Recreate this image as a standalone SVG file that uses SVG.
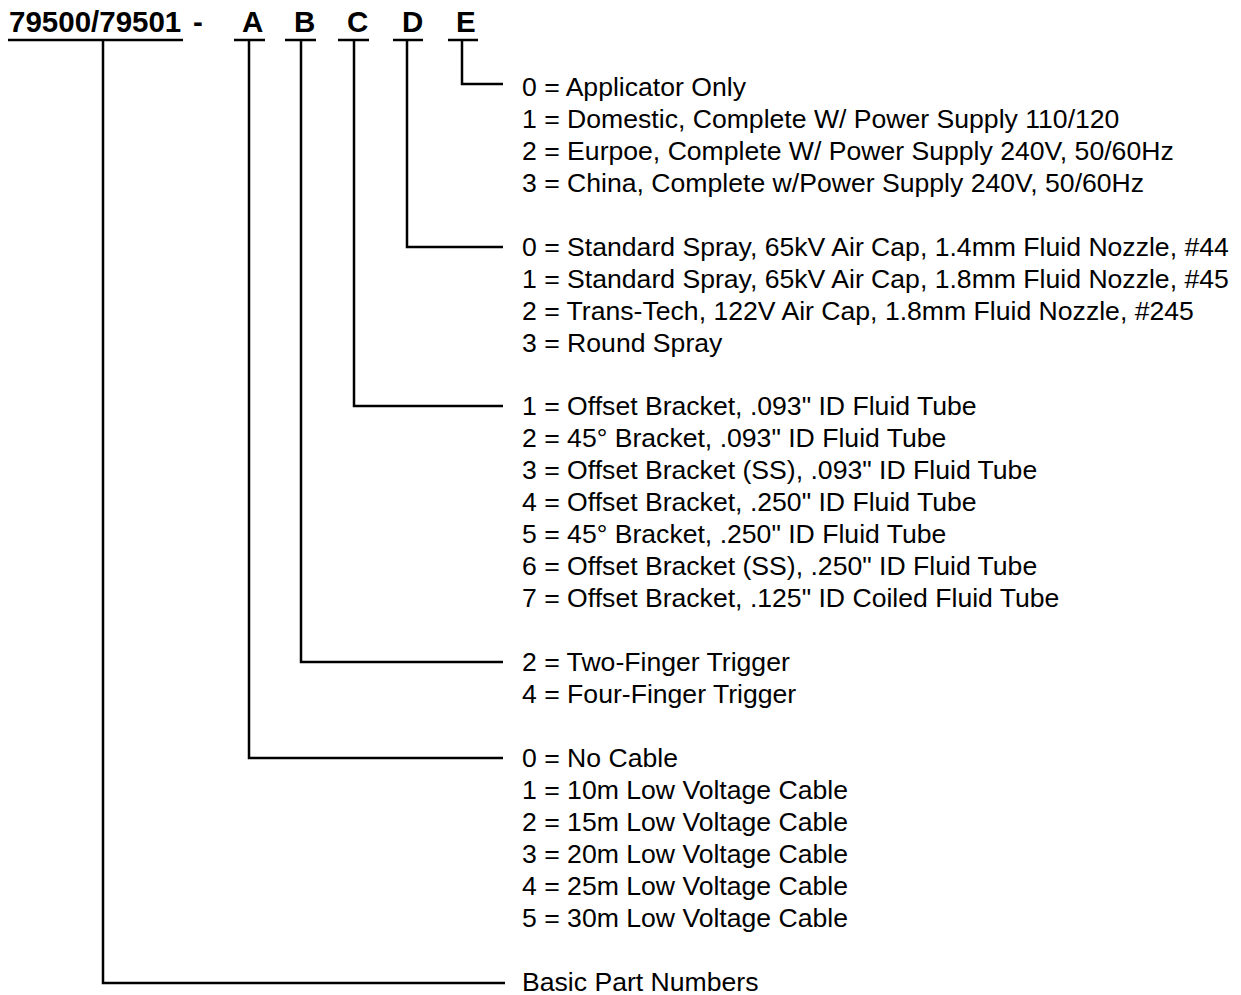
<svg xmlns="http://www.w3.org/2000/svg" width="1241" height="995" viewBox="0 0 1241 995">
<style>
.h{font-family:"Liberation Sans",Arial,sans-serif;font-weight:bold;font-size:29.5px;fill:#000}
.t{font-family:"Liberation Sans",Arial,sans-serif;font-size:26.6px;fill:#000}
.ln{fill:none;stroke:#000;stroke-width:2.5}
</style>
<rect width="1241" height="995" fill="#fff"/>
<g id="header">
<text class="h" x="9" y="32">79500/79501</text>
<text class="h" x="193" y="32">-</text>
<text class="h" x="242" y="32">A</text>
<text class="h" x="294" y="32">B</text>
<text class="h" x="347" y="32">C</text>
<text class="h" x="402" y="32">D</text>
<text class="h" x="456" y="32">E</text>
<path class="ln" d="M8 40H183M234 40H265M285 40H316M338 40H369M393 40H423M448 40H478"/>
</g>
<g id="connectors">
<path class="ln" d="M462 40V84H503"/>
<path class="ln" d="M407 40V247H503"/>
<path class="ln" d="M354 40V406H503"/>
<path class="ln" d="M301 40V662H503"/>
<path class="ln" d="M249 40V758H503"/>
<path class="ln" d="M103 40V983H505"/>
</g>
<g id="E">
<text class="t" x="522" y="96">0 = Applicator Only</text>
<text class="t" x="522" y="128">1 = Domestic, Complete W/ Power Supply 110/120</text>
<text class="t" x="522" y="160">2 = Eurpoe, Complete W/ Power Supply 240V, 50/60Hz</text>
<text class="t" x="522" y="192">3 = China, Complete w/Power Supply 240V, 50/60Hz</text>
</g>
<g id="D">
<text class="t" x="522" y="256">0 = Standard Spray, 65kV Air Cap, 1.4mm Fluid Nozzle, #44</text>
<text class="t" x="522" y="288">1 = Standard Spray, 65kV Air Cap, 1.8mm Fluid Nozzle, #45</text>
<text class="t" x="522" y="320">2 = Trans-Tech, 122V Air Cap, 1.8mm Fluid Nozzle, #245</text>
<text class="t" x="522" y="352">3 = Round Spray</text>
</g>
<g id="C">
<text class="t" x="522" y="415">1 = Offset Bracket, .093" ID Fluid Tube</text>
<text class="t" x="522" y="447">2 = 45° Bracket, .093" ID Fluid Tube</text>
<text class="t" x="522" y="479">3 = Offset Bracket (SS), .093" ID Fluid Tube</text>
<text class="t" x="522" y="511">4 = Offset Bracket, .250" ID Fluid Tube</text>
<text class="t" x="522" y="543">5 = 45° Bracket, .250" ID Fluid Tube</text>
<text class="t" x="522" y="575">6 = Offset Bracket (SS), .250" ID Fluid Tube</text>
<text class="t" x="522" y="607">7 = Offset Bracket, .125" ID Coiled Fluid Tube</text>
</g>
<g id="B">
<text class="t" x="522" y="671">2 = Two-Finger Trigger</text>
<text class="t" x="522" y="703">4 = Four-Finger Trigger</text>
</g>
<g id="A">
<text class="t" x="522" y="767">0 = No Cable</text>
<text class="t" x="522" y="799">1 = 10m Low Voltage Cable</text>
<text class="t" x="522" y="831">2 = 15m Low Voltage Cable</text>
<text class="t" x="522" y="863">3 = 20m Low Voltage Cable</text>
<text class="t" x="522" y="895">4 = 25m Low Voltage Cable</text>
<text class="t" x="522" y="927">5 = 30m Low Voltage Cable</text>
</g>
<g id="basic">
<text class="t" x="522" y="991">Basic Part Numbers</text>
</g>
</svg>
